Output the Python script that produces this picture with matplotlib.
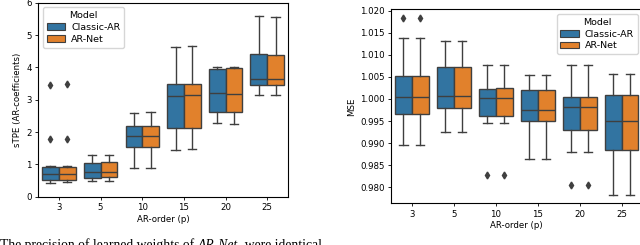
import numpy as np
import matplotlib
matplotlib.use("Agg")
import matplotlib.pyplot as plt
from matplotlib.patches import Patch

# === DATA ===
orders = ["3", "5", "10", "15", "20", "25"]
models = ["Classic-AR", "AR-Net"]

# sTPE box stats: low whisker, q1, median, q3, high whisker
stpe_classic_low = [0.43, 0.48, 0.88, 1.45, 2.29, 3.14]
stpe_classic_q1 = [0.52, 0.59, 1.55, 2.13, 2.63, 3.45]
stpe_classic_med = [0.70, 0.77, 1.88, 3.11, 3.22, 3.63]
stpe_classic_q3 = [0.93, 1.04, 2.19, 3.49, 3.95, 4.42]
stpe_classic_high = [0.96, 1.30, 2.58, 4.64, 4.01, 5.60]
stpe_classic_out = [[1.78, 3.47], [], [], [], [], []]

stpe_arnet_low = [0.44, 0.48, 0.88, 1.47, 2.24, 3.14]
stpe_arnet_q1 = [0.53, 0.61, 1.55, 2.13, 2.62, 3.46]
stpe_arnet_med = [0.70, 0.76, 1.88, 3.13, 3.18, 3.63]
stpe_arnet_q3 = [0.92, 1.06, 2.19, 3.49, 3.97, 4.38]
stpe_arnet_high = [0.95, 1.29, 2.62, 4.67, 4.02, 5.57]
stpe_arnet_out = [[1.80, 3.48], [], [], [], [], []]

mse_classic_low = [0.9896, 0.9925, 0.9946, 0.9863, 0.9880, 0.9783]
mse_classic_q1 = [0.9965, 0.9980, 0.9961, 0.9949, 0.9930, 0.9885]
mse_classic_med = [1.0005, 1.0007, 1.0003, 0.9976, 0.9981, 0.9949]
mse_classic_q3 = [1.0051, 1.0072, 1.0023, 1.0020, 1.0005, 1.0009]
mse_classic_high = [1.0138, 1.0131, 1.0077, 1.0054, 1.0077, 1.0057]
mse_classic_out = [[1.0183], [], [0.9827], [], [0.9806], []]

mse_arnet_low = [0.9896, 0.9925, 0.9946, 0.9863, 0.9880, 0.9783]
mse_arnet_q1 = [0.9965, 0.9980, 0.9961, 0.9949, 0.9930, 0.9885]
mse_arnet_med = [1.0005, 1.0007, 1.0003, 0.9976, 0.9981, 0.9949]
mse_arnet_q3 = [1.0051, 1.0072, 1.0024, 1.0020, 1.0005, 1.0009]
mse_arnet_high = [1.0138, 1.0131, 1.0077, 1.0054, 1.0077, 1.0057]
mse_arnet_out = [[1.0183], [], [0.9827], [], [0.9806], []]

COLORS = ["#3274a1", "#e1812c"]
EDGE = "#3f3f3f"
FS = 6.2
LEG_FS = 6.8


def make_stats(low, q1, med, q3, high, out):
    return [dict(whislo=a, q1=b, med=c, q3=d, whishi=e, fliers=f)
            for a, b, c, d, e, f in zip(low, q1, med, q3, high, out)]


def draw_panel(ax, groups, ylabel, ylim, legend_loc):
    x = np.arange(len(orders))
    w = 0.4
    for i, stats in enumerate(groups):
        pos = x - 0.2 + i * w
        ax.bxp(stats, positions=pos, widths=w, patch_artist=True,
               manage_ticks=False,
               boxprops=dict(facecolor=COLORS[i], edgecolor=EDGE, linewidth=1.0),
               medianprops=dict(color=EDGE, linewidth=1.0),
               whiskerprops=dict(color=EDGE, linewidth=1.0),
               capprops=dict(color=EDGE, linewidth=1.0),
               flierprops=dict(marker="d", markerfacecolor=EDGE,
                               markeredgecolor=EDGE, markersize=3.5))
    ax.set_xlim(-0.5, len(orders) - 0.5)
    ax.set_ylim(*ylim)
    ax.set_xticks(x)
    ax.set_xticklabels(orders)
    ax.set_xlabel("AR-order (p)", fontsize=FS, labelpad=2)
    ax.set_ylabel(ylabel, fontsize=FS, labelpad=3)
    ax.tick_params(labelsize=FS, length=2.5, width=0.6, pad=2)
    for s in ax.spines.values():
        s.set_linewidth(0.8)
    handles = [Patch(facecolor=COLORS[i], edgecolor=EDGE, linewidth=0.8,
                     label=models[i]) for i in range(2)]
    ax.legend(handles=handles, title="Model", loc=legend_loc, fontsize=LEG_FS,
              title_fontsize=LEG_FS, handlelength=2.0, handleheight=0.7,
              handletextpad=0.6, borderpad=0.4, labelspacing=0.3,
              borderaxespad=0.5, framealpha=0.8, edgecolor="#cccccc")


# === FIGURE ===
fig = plt.figure(figsize=(6.4, 2.45), dpi=100)
ax1 = fig.add_axes([38 / 640, 48.3 / 245, 250 / 640, 194 / 245])
ax2 = fig.add_axes([390.7 / 640, 41.7 / 245, 252 / 640, 194 / 245])

stpe = [make_stats(stpe_classic_low, stpe_classic_q1, stpe_classic_med,
                   stpe_classic_q3, stpe_classic_high, stpe_classic_out),
        make_stats(stpe_arnet_low, stpe_arnet_q1, stpe_arnet_med,
                   stpe_arnet_q3, stpe_arnet_high, stpe_arnet_out)]
mse = [make_stats(mse_classic_low, mse_classic_q1, mse_classic_med,
                  mse_classic_q3, mse_classic_high, mse_classic_out),
       make_stats(mse_arnet_low, mse_arnet_q1, mse_arnet_med,
                  mse_arnet_q3, mse_arnet_high, mse_arnet_out)]

draw_panel(ax1, stpe, "sTPE (AR-coefficients)", (0, 6), "upper left")
draw_panel(ax2, mse, "MSE", (0.97638, 1.0203), "upper right")
ax2.set_yticks([0.980, 0.985, 0.990, 0.995, 1.000, 1.005, 1.010, 1.015, 1.020])
ax2.set_yticklabels(["%.3f" % v for v in ax2.get_yticks()])

# caption fragment cut off at the bottom (as in the source page)
fig.canvas.draw()
r = fig.canvas.get_renderer()
xpos = 0.5 / 640
for txt, style in [("The precision of learned weights of ", "normal"),
                   ("AR-Net", "italic"), (", were identical", "normal")]:
    t = fig.text(xpos, -3.5 / 245, txt, fontsize=9.8, family="Liberation Serif",
                 style=style, va="baseline", ha="left")
    bb = t.get_window_extent(renderer=r)
    xpos += bb.width / fig.bbox.width

fig.savefig("out.png", dpi=100)
